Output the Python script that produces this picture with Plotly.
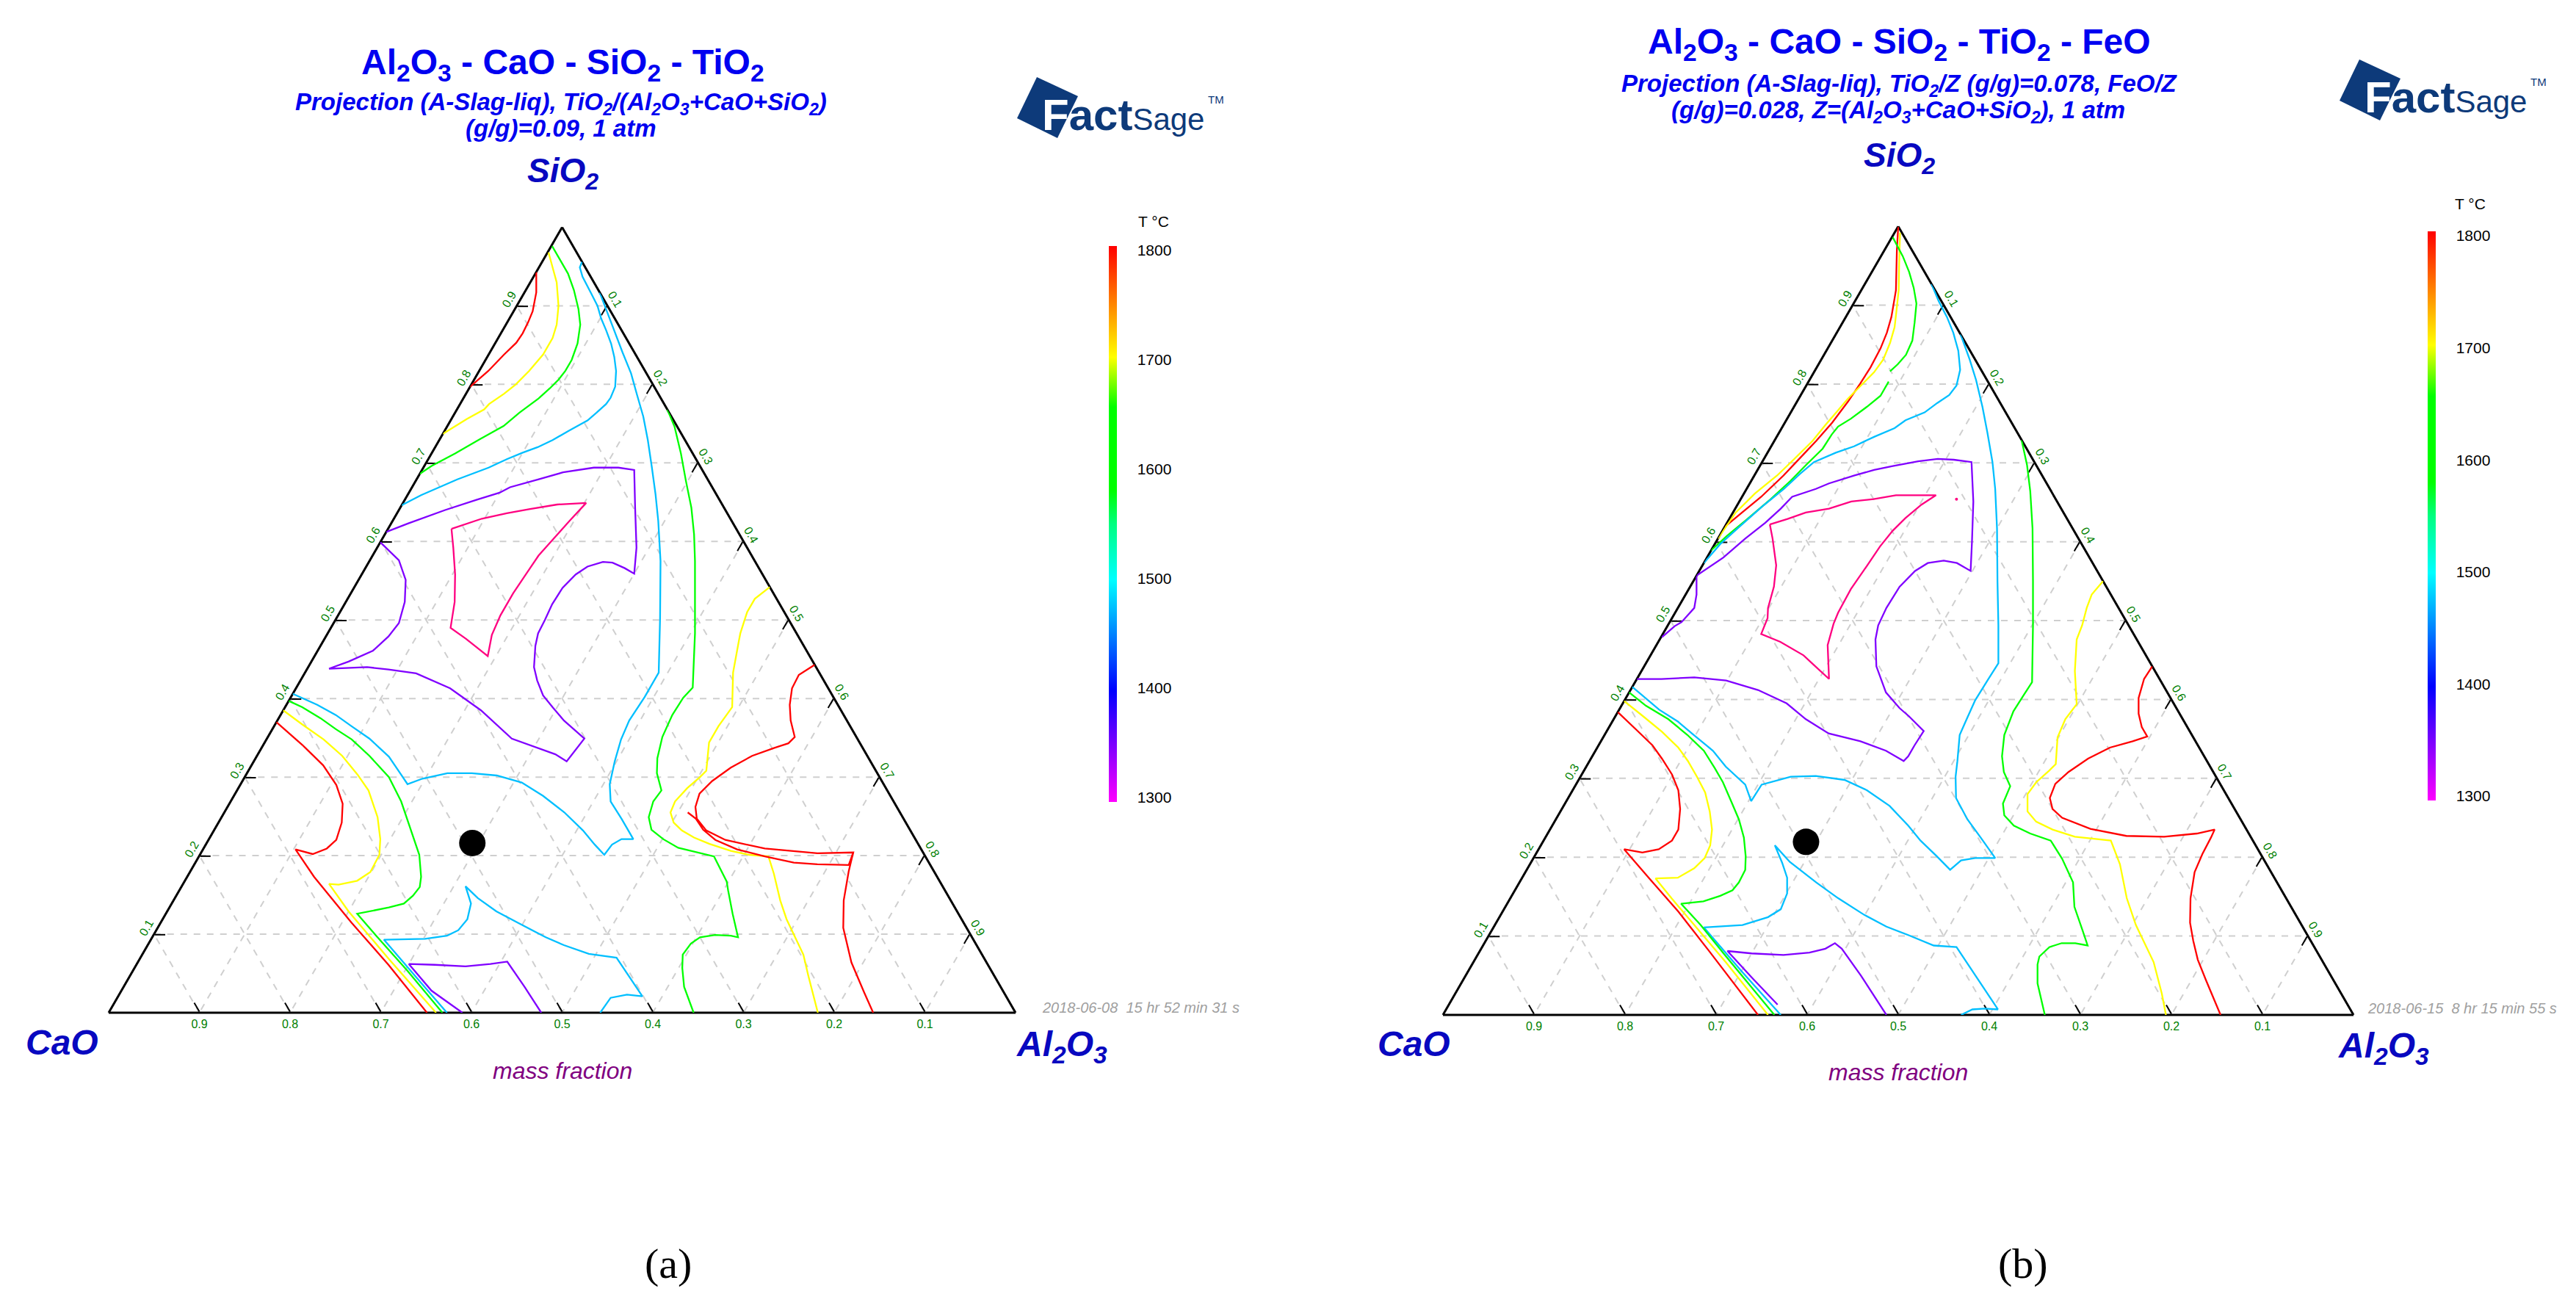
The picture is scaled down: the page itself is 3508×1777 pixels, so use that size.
import plotly.graph_objects as go

W, H = 3508, 1777
SANS = "Liberation Sans, Arial, sans-serif"
SERIF = "Liberation Serif, Times New Roman, serif"

# ---------------- tick labels ----------------
AXIS_TICKS = [0.1, 0.2, 0.3, 0.4, 0.5, 0.6, 0.7, 0.8, 0.9]
AXIS_TICK_TEXT = ["0.1", "0.2", "0.3", "0.4", "0.5", "0.6", "0.7", "0.8", "0.9"]
CB_TICKS = [1300, 1400, 1500, 1600, 1700, 1800]
CB_TICK_TEXT = ["1300", "1400", "1500", "1600", "1700", "1800"]

# ---------------- colours of isotherms ----------------
RED, YELLOW, GREEN, LBLUE, PURPLE, PINK = "#ff0000", "#ffff00", "#00ff00", "#00bfff", "#8000ff", "#ff0080"

# ================= (a) Al2O3-CaO-SiO2-TiO2 : SiO2 and Al2O3 mass fractions =================
l_red1_sio2 = [0.943, 0.917, 0.893, 0.879, 0.865, 0.853, 0.838, 0.817, 0.797]
l_red1_al2o3 = [0.000, 0.013, 0.021, 0.023, 0.024, 0.023, 0.017, 0.010, 0.000]

l_yel1_sio2 = [0.968, 0.930, 0.900, 0.876, 0.859, 0.838, 0.817, 0.800, 0.788, 0.775, 0.768, 0.756, 0.737]
l_yel1_al2o3 = [0.001, 0.029, 0.046, 0.056, 0.060, 0.060, 0.055, 0.049, 0.042, 0.032, 0.030, 0.017, 0.000]

l_grn1_sio2 = [0.976, 0.958, 0.941, 0.920, 0.896, 0.876, 0.852, 0.831, 0.817, 0.806, 0.795, 0.782, 0.764, 0.747, 0.730, 0.712, 0.696, 0.686]
l_grn1_al2o3 = [0.001, 0.019, 0.036, 0.053, 0.070, 0.082, 0.091, 0.095, 0.095, 0.093, 0.089, 0.083, 0.071, 0.062, 0.044, 0.026, 0.008, 0.000]

l_blu1_sio2 = [0.956, 0.949, 0.937, 0.917, 0.900, 0.884, 0.869, 0.852, 0.835, 0.817, 0.797, 0.783, 0.775, 0.764, 0.754,
               0.741, 0.729, 0.720, 0.713, 0.705, 0.694, 0.679, 0.669, 0.659, 0.646]
l_blu1_al2o3 = [0.044, 0.045, 0.054, 0.073, 0.089, 0.101, 0.114, 0.128, 0.140, 0.151, 0.160, 0.162, 0.161, 0.156, 0.151,
                0.137, 0.125, 0.113, 0.100, 0.087, 0.072, 0.045, 0.030, 0.015, 0.000]

l_blu2_sio2 = [0.917, 0.900, 0.876, 0.841, 0.814, 0.787, 0.759, 0.729, 0.694, 0.660, 0.626, 0.575, 0.502, 0.433, 0.402,
               0.372, 0.348, 0.320, 0.291, 0.269, 0.247, 0.221, 0.221, 0.214, 0.201, 0.214, 0.232, 0.255, 0.276, 0.293,
               0.302, 0.305, 0.305, 0.298, 0.291, 0.303, 0.326, 0.349, 0.365, 0.379, 0.392, 0.406]
l_blu2_al2o3 = [0.083, 0.097, 0.117, 0.146, 0.169, 0.189, 0.210, 0.230, 0.252, 0.273, 0.293, 0.321, 0.357, 0.390, 0.390,
                0.388, 0.391, 0.398, 0.407, 0.419, 0.442, 0.468, 0.455, 0.448, 0.446, 0.429, 0.407, 0.375, 0.341, 0.309,
                0.277, 0.248, 0.221, 0.197, 0.184, 0.171, 0.146, 0.113, 0.085, 0.061, 0.034, 0.000]

l_grn2_sio2 = [0.768, 0.746, 0.712, 0.677, 0.643, 0.609, 0.575, 0.483, 0.414, 0.401, 0.379, 0.351, 0.324, 0.305, 0.283,
               0.269, 0.249, 0.233, 0.221, 0.210, 0.199, 0.167, 0.156, 0.126, 0.096, 0.098, 0.099, 0.096, 0.088, 0.074,
               0.057, 0.033, 0.000]
l_grn2_al2o3 = [0.232, 0.251, 0.275, 0.298, 0.321, 0.341, 0.359, 0.405, 0.437, 0.433, 0.432, 0.435, 0.443, 0.452, 0.468,
                0.466, 0.471, 0.482, 0.501, 0.523, 0.568, 0.598, 0.605, 0.625, 0.646, 0.637, 0.619, 0.604, 0.598, 0.596,
                0.604, 0.618, 0.645]

l_yel2_sio2 = [0.542, 0.527, 0.510, 0.483, 0.474, 0.433, 0.389, 0.365, 0.344, 0.308, 0.300, 0.286, 0.269, 0.255, 0.242,
               0.232, 0.223, 0.215, 0.206, 0.201, 0.199, 0.177, 0.143, 0.119, 0.074, 0.047, 0.000]
l_yel2_al2o3 = [0.458, 0.449, 0.449, 0.455, 0.458, 0.472, 0.493, 0.490, 0.490, 0.505, 0.502, 0.495, 0.490, 0.492, 0.502,
                0.516, 0.534, 0.555, 0.583, 0.606, 0.628, 0.645, 0.669, 0.688, 0.729, 0.748, 0.782]

l_red2_sio2 = [0.443, 0.430, 0.413, 0.392, 0.372, 0.351, 0.343, 0.337, 0.327, 0.312, 0.295, 0.279, 0.262, 0.247, 0.232,
               0.220, 0.209, 0.203, 0.204, 0.188, 0.189, 0.191, 0.199, 0.208, 0.220, 0.233, 0.247, 0.255]
l_red2_al2o3 = [0.557, 0.546, 0.547, 0.555, 0.566, 0.581, 0.578, 0.565, 0.546, 0.530, 0.518, 0.512, 0.516, 0.525, 0.543,
                0.570, 0.619, 0.680, 0.719, 0.722, 0.687, 0.660, 0.624, 0.589, 0.559, 0.539, 0.524, 0.511]

l_red3_sio2 = [0.204, 0.180, 0.143, 0.108, 0.064, 0.026, 0.000]
l_red3_al2o3 = [0.719, 0.726, 0.739, 0.756, 0.787, 0.820, 0.843]

l_blu3_sio2 = [0.000, 0.040, 0.093, 0.094, 0.098, 0.105, 0.119, 0.139, 0.161, 0.146, 0.129, 0.114, 0.096, 0.086, 0.075,
               0.070, 0.021, 0.023, 0.019, 0.000]
l_blu3_al2o3 = [0.373, 0.323, 0.257, 0.302, 0.324, 0.333, 0.336, 0.330, 0.313, 0.334, 0.363, 0.395, 0.434, 0.459, 0.492,
                0.525, 0.578, 0.560, 0.544, 0.542]

l_red4_sio2 = [0.370, 0.341, 0.315, 0.290, 0.266, 0.242, 0.220, 0.209, 0.202, 0.208, 0.173, 0.115, 0.061, 0.000]
l_red4_al2o3 = [0.000, 0.043, 0.079, 0.106, 0.125, 0.136, 0.141, 0.136, 0.124, 0.102, 0.140, 0.210, 0.278, 0.351]

l_yel3_sio2 = [0.385, 0.367, 0.348, 0.327, 0.303, 0.283, 0.249, 0.221, 0.201, 0.179, 0.168, 0.163, 0.164, 0.129, 0.069, 0.000]
l_yel3_al2o3 = [0.000, 0.030, 0.063, 0.094, 0.123, 0.145, 0.172, 0.189, 0.198, 0.199, 0.190, 0.172, 0.161, 0.200, 0.274, 0.361]

l_grn3_sio2 = [0.397, 0.389, 0.375, 0.361, 0.348, 0.327, 0.300, 0.269, 0.235, 0.201, 0.173, 0.160, 0.149, 0.139, 0.134,
               0.126, 0.098, 0.054, 0.000]
l_grn3_al2o3 = [0.000, 0.019, 0.046, 0.070, 0.094, 0.124, 0.159, 0.188, 0.215, 0.242, 0.258, 0.263, 0.261, 0.256, 0.242,
                0.211, 0.246, 0.302, 0.368]

l_pur1_sio2 = [0.612, 0.623, 0.640, 0.653, 0.662, 0.669, 0.679, 0.688, 0.694, 0.694, 0.691, 0.643, 0.592, 0.559, 0.566,
               0.573, 0.574, 0.568, 0.558, 0.541, 0.520, 0.500, 0.483, 0.467, 0.440, 0.423, 0.404, 0.389, 0.372, 0.349,
               0.320, 0.329, 0.349, 0.385, 0.413, 0.432, 0.437, 0.440, 0.438, 0.447, 0.461, 0.479, 0.496, 0.523, 0.551,
               0.576, 0.599]
l_pur1_al2o3 = [0.000, 0.019, 0.051, 0.079, 0.100, 0.108, 0.134, 0.157, 0.188, 0.215, 0.234, 0.259, 0.286, 0.300, 0.286,
                0.269, 0.258, 0.244, 0.236, 0.230, 0.229, 0.231, 0.232, 0.237, 0.249, 0.261, 0.277, 0.295, 0.316, 0.350,
                0.345, 0.328, 0.270, 0.218, 0.170, 0.123, 0.090, 0.065, 0.024, 0.041, 0.061, 0.069, 0.072, 0.065, 0.052,
                0.032, 0.000]

l_pink_sio2 = [0.616, 0.629, 0.636, 0.641, 0.647, 0.649, 0.626, 0.604, 0.582, 0.558, 0.534, 0.506, 0.481, 0.454, 0.476,
               0.490, 0.523, 0.558, 0.592, 0.616]
l_pink_al2o3 = [0.070, 0.097, 0.121, 0.143, 0.171, 0.202, 0.195, 0.189, 0.183, 0.181, 0.179, 0.179, 0.182, 0.191, 0.156,
                0.132, 0.120, 0.103, 0.084, 0.070]

l_pur2_sio2 = [0.000, 0.028, 0.062, 0.061, 0.059, 0.062, 0.065, 0.033, 0.000]
l_pur2_al2o3 = [0.390, 0.342, 0.300, 0.329, 0.364, 0.390, 0.407, 0.442, 0.477]

l_point_sio2 = [0.216]
l_point_al2o3 = [0.293]

# ================= (b) Al2O3-CaO-SiO2-TiO2-FeO =================
r_red1_sio2 = [1.000, 0.969, 0.919, 0.885, 0.865, 0.845, 0.821, 0.801, 0.778, 0.751, 0.728, 0.706, 0.684, 0.657, 0.637, 0.619]
r_red1_al2o3 = [0.000, 0.014, 0.038, 0.050, 0.055, 0.058, 0.059, 0.058, 0.056, 0.052, 0.046, 0.039, 0.032, 0.021, 0.010, 0.000]

r_yel1_sio2 = [0.992, 0.952, 0.919, 0.892, 0.872, 0.852, 0.831, 0.815, 0.798, 0.781, 0.764, 0.748, 0.728, 0.704, 0.684,
               0.661, 0.637, 0.604]
r_yel1_al2o3 = [0.006, 0.025, 0.041, 0.052, 0.060, 0.065, 0.068, 0.066, 0.060, 0.054, 0.050, 0.046, 0.042, 0.033, 0.025,
                0.012, 0.003, 0.000]

r_grn1_sio2 = [0.986, 0.962, 0.942, 0.922, 0.902, 0.878, 0.855, 0.837, 0.825, 0.816]
r_grn1_al2o3 = [0.001, 0.024, 0.041, 0.056, 0.069, 0.079, 0.088, 0.090, 0.087, 0.083]

r_grn2_sio2 = [0.803, 0.785, 0.771, 0.756, 0.746, 0.736, 0.718, 0.697, 0.677, 0.654, 0.627, 0.607, 0.589]
r_grn2_al2o3 = [0.088, 0.088, 0.080, 0.070, 0.061, 0.059, 0.058, 0.050, 0.043, 0.033, 0.019, 0.008, 0.000]

r_blu1_sio2 = [0.927, 0.905, 0.885, 0.865, 0.842, 0.818, 0.798, 0.786, 0.776, 0.764, 0.754, 0.744, 0.733, 0.721, 0.713,
               0.701, 0.686, 0.667, 0.644, 0.619, 0.597, 0.573]
r_blu1_al2o3 = [0.073, 0.092, 0.111, 0.128, 0.145, 0.159, 0.165, 0.163, 0.155, 0.147, 0.131, 0.124, 0.107, 0.091, 0.075,
                0.057, 0.049, 0.041, 0.028, 0.016, 0.006, 0.000]

r_pur1_sio2 = [0.479, 0.493, 0.498, 0.516, 0.533, 0.557, 0.580, 0.604, 0.624, 0.642, 0.657, 0.667, 0.674, 0.684, 0.691,
               0.696, 0.702, 0.705, 0.704, 0.701, 0.651, 0.600, 0.563, 0.573, 0.576, 0.573, 0.563, 0.543, 0.516, 0.494,
               0.476, 0.442, 0.409, 0.389, 0.379, 0.360, 0.342, 0.328, 0.322, 0.335, 0.347, 0.357, 0.375, 0.395, 0.412,
               0.424, 0.428, 0.426, 0.426]
r_pur1_al2o3 = [0.001, 0.008, 0.013, 0.018, 0.012, 0.000, 0.018, 0.030, 0.042, 0.050, 0.055, 0.076, 0.087, 0.110, 0.128,
                0.146, 0.171, 0.191, 0.209, 0.230, 0.257, 0.281, 0.298, 0.278, 0.262, 0.246, 0.237, 0.230, 0.229, 0.231,
                0.237, 0.255, 0.282, 0.307, 0.322, 0.348, 0.347, 0.347, 0.345, 0.319, 0.285, 0.245, 0.211, 0.180, 0.140,
                0.099, 0.062, 0.027, 0.000]

r_pink_sio2 = [0.622, 0.629, 0.637, 0.642, 0.651, 0.654, 0.659, 0.659, 0.647, 0.630, 0.614, 0.594, 0.570, 0.540, 0.510,
               0.496, 0.469, 0.426, 0.442, 0.456, 0.473, 0.483, 0.503, 0.516, 0.543, 0.570, 0.604, 0.622]
r_pink_al2o3 = [0.048, 0.064, 0.080, 0.103, 0.123, 0.146, 0.168, 0.212, 0.202, 0.193, 0.187, 0.183, 0.181, 0.178, 0.179,
                0.181, 0.188, 0.211, 0.188, 0.168, 0.134, 0.108, 0.105, 0.099, 0.092, 0.081, 0.060, 0.048]

r_pinkdot_sio2 = [0.654]
r_pinkdot_al2o3 = [0.237]

r_blu2_sio2 = [0.863, 0.831, 0.805, 0.771, 0.738, 0.701, 0.667, 0.617, 0.550, 0.494, 0.446, 0.426, 0.399, 0.372, 0.355,
               0.322, 0.302, 0.275, 0.248, 0.225, 0.199, 0.199, 0.196, 0.184, 0.201, 0.221, 0.240, 0.265, 0.285, 0.298,
               0.303, 0.302, 0.292, 0.271, 0.292, 0.315, 0.335, 0.355, 0.372, 0.387, 0.416]
r_blu2_al2o3 = [0.137, 0.163, 0.183, 0.207, 0.229, 0.253, 0.273, 0.300, 0.334, 0.363, 0.387, 0.386, 0.385, 0.388, 0.390,
                0.404, 0.412, 0.426, 0.452, 0.478, 0.507, 0.485, 0.471, 0.465, 0.442, 0.414, 0.391, 0.358, 0.323, 0.292,
                0.258, 0.231, 0.204, 0.203, 0.186, 0.153, 0.129, 0.098, 0.072, 0.044, 0.000]

r_grn3_sio2 = [0.729, 0.697, 0.664, 0.617, 0.550, 0.494, 0.422, 0.406, 0.385, 0.355, 0.328, 0.308, 0.290, 0.268, 0.253,
               0.240, 0.230, 0.221, 0.198, 0.168, 0.137, 0.107, 0.088, 0.091, 0.091, 0.086, 0.074, 0.064, 0.040, 0.000]
r_grn3_al2o3 = [0.271, 0.293, 0.313, 0.339, 0.373, 0.401, 0.436, 0.435, 0.434, 0.439, 0.450, 0.462, 0.478, 0.481, 0.490,
                0.507, 0.530, 0.557, 0.581, 0.608, 0.625, 0.649, 0.664, 0.649, 0.634, 0.623, 0.618, 0.621, 0.633, 0.661]

r_yel2_sio2 = [0.550, 0.533, 0.516, 0.494, 0.476, 0.436, 0.394, 0.375, 0.352, 0.318, 0.310, 0.295, 0.280, 0.258, 0.245,
               0.235, 0.226, 0.221, 0.191, 0.148, 0.114, 0.067, 0.027, 0.000]
r_yel2_al2o3 = [0.450, 0.446, 0.449, 0.455, 0.458, 0.476, 0.499, 0.496, 0.499, 0.514, 0.511, 0.504, 0.502, 0.513, 0.529,
                0.552, 0.581, 0.623, 0.648, 0.677, 0.704, 0.747, 0.776, 0.794]

r_red2_sio2 = [0.442, 0.426, 0.402, 0.382, 0.365, 0.353, 0.347, 0.339, 0.325, 0.308, 0.293, 0.275, 0.261, 0.250, 0.236,
               0.227, 0.226, 0.230, 0.235, 0.225, 0.204, 0.181, 0.148, 0.117, 0.094, 0.070, 0.044, 0.000]
r_red2_al2o3 = [0.558, 0.557, 0.563, 0.573, 0.585, 0.597, 0.584, 0.563, 0.546, 0.533, 0.526, 0.529, 0.539, 0.555, 0.593,
                0.637, 0.679, 0.713, 0.730, 0.731, 0.732, 0.735, 0.747, 0.762, 0.777, 0.794, 0.816, 0.854]

r_blu3_sio2 = [0.000, 0.054, 0.111, 0.114, 0.124, 0.134, 0.154, 0.174, 0.193, 0.215, 0.194, 0.168, 0.148, 0.127, 0.112,
               0.101, 0.088, 0.086, 0.007, 0.008, 0.007, 0.000]
r_blu3_al2o3 = [0.371, 0.302, 0.231, 0.272, 0.295, 0.304, 0.301, 0.291, 0.276, 0.257, 0.284, 0.326, 0.360, 0.399, 0.431,
                0.461, 0.495, 0.521, 0.606, 0.591, 0.578, 0.569]

r_red3_sio2 = [0.384, 0.362, 0.342, 0.325, 0.305, 0.285, 0.261, 0.235, 0.221, 0.210, 0.206, 0.210, 0.174, 0.131, 0.080, 0.000]
r_red3_al2o3 = [0.000, 0.031, 0.059, 0.078, 0.099, 0.116, 0.130, 0.141, 0.141, 0.132, 0.116, 0.094, 0.139, 0.193, 0.253, 0.346]

r_yel3_sio2 = [0.398, 0.379, 0.359, 0.339, 0.322, 0.302, 0.282, 0.258, 0.235, 0.215, 0.199, 0.186, 0.174, 0.173, 0.148,
               0.114, 0.067, 0.000]
r_yel3_al2o3 = [0.000, 0.030, 0.061, 0.089, 0.108, 0.128, 0.147, 0.164, 0.178, 0.186, 0.188, 0.183, 0.171, 0.147, 0.177,
                0.219, 0.277, 0.357]

r_grn4_sio2 = [0.409, 0.392, 0.375, 0.355, 0.335, 0.313, 0.295, 0.271, 0.248, 0.225, 0.201, 0.184, 0.168, 0.158, 0.151,
               0.144, 0.141, 0.114, 0.074, 0.000]
r_grn4_al2o3 = [0.000, 0.027, 0.060, 0.091, 0.119, 0.142, 0.160, 0.181, 0.201, 0.218, 0.232, 0.240, 0.241, 0.239, 0.229,
                0.214, 0.191, 0.226, 0.274, 0.364]

r_pur2_sio2 = [0.013, 0.047, 0.081, 0.078, 0.076, 0.079, 0.084, 0.091, 0.084, 0.050, 0.000]
r_pur2_al2o3 = [0.361, 0.316, 0.272, 0.300, 0.336, 0.363, 0.378, 0.385, 0.396, 0.434, 0.487]

r_point_sio2 = [0.2195]
r_point_al2o3 = [0.289]

# ---------------- figure ----------------
fig = go.Figure()


def iso(sub, sio2, al2o3, color):
    fig.add_trace(go.Scatterternary(a=sio2, c=al2o3, mode="lines", subplot=sub,
                                    line=dict(color=color, width=2.3),
                                    hoverinfo="skip", showlegend=False))


left = [
    (l_red1_sio2, l_red1_al2o3, RED), (l_yel1_sio2, l_yel1_al2o3, YELLOW), (l_grn1_sio2, l_grn1_al2o3, GREEN),
    (l_blu1_sio2, l_blu1_al2o3, LBLUE), (l_blu2_sio2, l_blu2_al2o3, LBLUE), (l_grn2_sio2, l_grn2_al2o3, GREEN),
    (l_yel2_sio2, l_yel2_al2o3, YELLOW), (l_red2_sio2, l_red2_al2o3, RED), (l_red3_sio2, l_red3_al2o3, RED),
    (l_blu3_sio2, l_blu3_al2o3, LBLUE), (l_red4_sio2, l_red4_al2o3, RED), (l_yel3_sio2, l_yel3_al2o3, YELLOW),
    (l_grn3_sio2, l_grn3_al2o3, GREEN), (l_pur1_sio2, l_pur1_al2o3, PURPLE), (l_pink_sio2, l_pink_al2o3, PINK),
    (l_pur2_sio2, l_pur2_al2o3, PURPLE),
]
right = [
    (r_red1_sio2, r_red1_al2o3, RED), (r_yel1_sio2, r_yel1_al2o3, YELLOW), (r_grn1_sio2, r_grn1_al2o3, GREEN),
    (r_grn2_sio2, r_grn2_al2o3, GREEN), (r_blu1_sio2, r_blu1_al2o3, LBLUE), (r_pur1_sio2, r_pur1_al2o3, PURPLE),
    (r_pink_sio2, r_pink_al2o3, PINK), (r_blu2_sio2, r_blu2_al2o3, LBLUE), (r_grn3_sio2, r_grn3_al2o3, GREEN),
    (r_yel2_sio2, r_yel2_al2o3, YELLOW), (r_red2_sio2, r_red2_al2o3, RED), (r_blu3_sio2, r_blu3_al2o3, LBLUE),
    (r_red3_sio2, r_red3_al2o3, RED), (r_yel3_sio2, r_yel3_al2o3, YELLOW), (r_grn4_sio2, r_grn4_al2o3, GREEN),
    (r_pur2_sio2, r_pur2_al2o3, PURPLE),
]
for s, c, col in left:
    iso("ternary", s, c, col)
for s, c, col in right:
    iso("ternary2", s, c, col)

fig.add_trace(go.Scatterternary(a=l_point_sio2, c=l_point_al2o3, mode="markers", subplot="ternary",
                                marker=dict(color="black", size=36), hoverinfo="skip", showlegend=False))
fig.add_trace(go.Scatterternary(a=r_point_sio2, c=r_point_al2o3, mode="markers", subplot="ternary2",
                                marker=dict(color="black", size=36), hoverinfo="skip", showlegend=False))
fig.add_trace(go.Scatterternary(a=r_pinkdot_sio2, c=r_pinkdot_al2o3, mode="markers", subplot="ternary2",
                                marker=dict(color=PINK, size=4), hoverinfo="skip", showlegend=False))

# colour bars
CS = [[0.0, "#ff00ff"], [0.1, "#8000ff"], [0.2, "#0000ff"], [0.3, "#0080ff"], [0.4, "#00ffff"],
      [0.5, "#00ff80"], [0.56, "#00ff00"], [0.71, "#00ff00"], [0.8, "#ffff00"], [0.9, "#ff8000"], [1.0, "#ff0000"]]


def cbar(sub, x_px, top_px, bot_px):
    fig.add_trace(go.Scatterternary(
        a=[1], b=[0], c=[0], mode="markers", subplot=sub, hoverinfo="skip", showlegend=False,
        marker=dict(size=1, opacity=0, color=[1500], cmin=1296, cmax=1804, colorscale=CS, showscale=True,
                    colorbar=dict(x=x_px / W, xanchor="left", xpad=0, ypad=0,
                                  y=1 - (top_px + bot_px) / 2 / H, yanchor="middle",
                                  len=bot_px - top_px, lenmode="pixels", thickness=11, outlinewidth=0,
                                  tickmode="array", tickvals=CB_TICKS, ticktext=CB_TICK_TEXT,
                                  ticks="outside", ticklen=24, tickcolor="rgba(0,0,0,0)",
                                  tickfont=dict(size=21, color="black", family=SANS)))))


cbar("ternary", 1502, 327, 1084)
cbar("ternary2", 3298, 307, 1082)


def axis(angle):
    return dict(tickmode="array", tickvals=AXIS_TICKS, ticktext=AXIS_TICK_TEXT, tickangle=angle,
                ticks="inside", ticklen=14, tickwidth=1.5, tickcolor="black",
                tickfont=dict(size=16, color="#008000", family=SANS),
                showline=True, linecolor="black", linewidth=3,
                showgrid=True, gridcolor="#cfcfcf", gridwidth=1.5, griddash="dash",
                layer="below traces", title=dict(text=""), min=0)


def tern(x0, x1, ybase):
    h = (x1 - x0) * 3 ** 0.5 / 2
    return dict(domain=dict(x=[x0 / W, x1 / W], y=[1 - ybase / H, 1 - (ybase - h) / H]), sum=1,
                bgcolor="white", aaxis=axis(-60), baxis=axis(0), caxis=axis(60))


def ann(text, X, Y, size, color="black", family=SANS, xanchor="center", yanchor="middle"):
    return dict(text=text, x=X / W, y=1 - Y / H, xref="paper", yref="paper", showarrow=False,
                xanchor=xanchor, yanchor=yanchor, font=dict(size=size, color=color, family=family))


TBLUE = "#0000f0"
LBL = "#0808c0"
NAVY = "#0d3a7a"
LOGO = "<b><span style='color:#ffffff'>F</span>act</b><span style='font-size:42px'>Sage</span>"
annotations = [
    # (a)
    ann("<b>Al<sub>2</sub>O<sub>3</sub> - CaO - SiO<sub>2</sub> - TiO<sub>2</sub></b>", 758, 80, 48, TBLUE),
    ann("<b><i>Projection (A-Slag-liq), TiO<sub>2</sub>/(Al<sub>2</sub>O<sub>3</sub>+CaO+SiO<sub>2</sub>)</i></b>", 756, 133, 33, TBLUE),
    ann("<b><i>(g/g)=0.09, 1 atm</i></b>", 756, 166, 33, TBLUE),
    ann("<b><i>SiO<sub>2</sub></i></b>", 758, 228, 46, LBL),
    ann("<b><i>CaO</i></b>", 76, 1411, 48, LBL),
    ann("<b><i>Al<sub>2</sub>O<sub>3</sub></i></b>", 1438, 1417, 48, LBL),
    ann("<i>mass fraction</i>", 758, 1450, 32, "#800080"),
    ann("<i>2018-06-08  15 hr 52 min 31 s</i>", 1545, 1364, 20, "#a0a0a0"),
    ann("T °C", 1563, 293, 21),
    ann("(a)", 902, 1712, 58, "black", SERIF),
    # (b)
    ann("<b>Al<sub>2</sub>O<sub>3</sub> - CaO - SiO<sub>2</sub> - TiO<sub>2</sub> - FeO</b>", 2578, 52, 48, TBLUE),
    ann("<b><i>Projection (A-Slag-liq), TiO<sub>2</sub>/Z (g/g)=0.078, FeO/Z</i></b>", 2579, 108, 33, TBLUE),
    ann("<b><i>(g/g)=0.028, Z=(Al<sub>2</sub>O<sub>3</sub>+CaO+SiO<sub>2</sub>), 1 atm</i></b>", 2577, 144, 33, TBLUE),
    ann("<b><i>SiO<sub>2</sub></i></b>", 2578, 206, 46, LBL),
    ann("<b><i>CaO</i></b>", 1917, 1413, 48, LBL),
    ann("<b><i>Al<sub>2</sub>O<sub>3</sub></i></b>", 3238, 1419, 48, LBL),
    ann("<i>mass fraction</i>", 2577, 1452, 32, "#800080"),
    ann("<i>2018-06-15  8 hr 15 min 55 s</i>", 3345, 1365, 20, "#a0a0a0"),
    ann("T °C", 3356, 270, 21),
    ann("(b)", 2747, 1712, 58, "black", SERIF),
    # FactSage logos
    ann(LOGO, 1409, 148, 60, NAVY, xanchor="left"),
    ann("TM", 1648, 128, 15, NAVY),
    ann(LOGO, 3210, 124, 60, NAVY, xanchor="left"),
    ann("TM", 3449, 104, 15, NAVY),
]


def kite(pts):
    return dict(type="path", xref="paper", yref="paper", fillcolor=NAVY, line=dict(width=0), layer="below",
                path="M " + " L ".join(f"{x / W:.5f},{1 - y / H:.5f}" for x, y in pts) + " Z")


shapes = [
    kite([(1404, 97), (1460, 123), (1432, 180), (1377, 153)]),
    kite([(3205, 73), (3261, 99), (3233, 156), (3178, 129)]),
]

fig.update_layout(
    width=W, height=H, margin=dict(l=0, r=0, t=0, b=0),
    paper_bgcolor="white", plot_bgcolor="white", showlegend=False,
    ternary=tern(140, 1375, 1371),
    ternary2=tern(1957, 3197, 1374),
    annotations=annotations, shapes=shapes,
    font=dict(family=SANS),
)

fig.write_html("out.html")
